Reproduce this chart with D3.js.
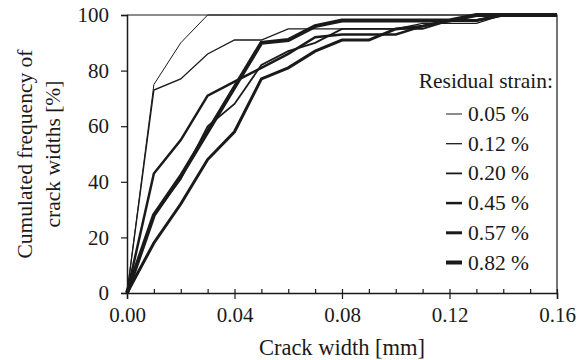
<!DOCTYPE html>
<html>
<head>
<meta charset="utf-8">
<script src="https://cdn.jsdelivr.net/npm/d3@7"></script>
<style>
    body { margin: 0; background: #fff; }
    text { font-family: "Liberation Serif", "Times New Roman", serif; fill: #1a1a1a; }
</style>
</head>
<body>
<div id="chart"></div>
<script>
'use strict';

// crack width classes [mm]
var crackWidths = [0, 0.01, 0.02, 0.03, 0.04, 0.05, 0.06, 0.07, 0.08, 0.09, 0.10, 0.11, 0.12, 0.13, 0.14, 0.15, 0.16];

// cumulated frequency [%] per residual strain
var strain005 = [0, 75, 90, 100, 100, 100, 100, 100, 100, 100, 100, 100, 100, 100, 100, 100, 100];
var strain012 = [0, 73, 77, 86, 91, 91, 95, 95, 95, 95, 95, 97, 97, 97, 100, 100, 100];
var strain020 = [0, 28, 41, 60, 68, 82, 87, 90, 95, 95, 95, 95, 98, 100, 100, 100, 100];
var strain045 = [0, 43, 55, 71, 76, 81, 86, 92, 93, 93, 93, 96, 98, 98, 100, 100, 100];
var strain057 = [0, 18, 32, 48, 58, 77, 81, 87, 91, 91, 95, 96, 98, 98, 100, 100, 100];
var strain082 = [0, 28, 42, 58, 74, 90, 91, 96, 98, 98, 98, 98, 98, 100, 100, 100, 100];

var seriesNames = ['0.05 %', '0.12 %', '0.20 %', '0.45 %', '0.57 %', '0.82 %'];
var seriesValues = [strain005, strain012, strain020, strain045, strain057, strain082];

var xMajorTicks = [0, 0.04, 0.08, 0.12, 0.16];
var xMinorTicks = [0.01, 0.02, 0.03, 0.05, 0.06, 0.07, 0.09, 0.10, 0.11, 0.13, 0.14, 0.15];
var yTicks = [0, 20, 40, 60, 80, 100];

var chartWidth = 581,
    chartHeight = 360,
    plot = { left: 127, right: 557, top: 15, bottom: 293 },
    strokeWidths = [1, 1.3, 1.8, 2.5, 3, 4],
    ink = '#1a1a1a';

var svg = d3.select('#chart').append('svg')
            .attr('width', chartWidth)
            .attr('height', chartHeight);

var x = d3.scaleLinear().domain([0, 0.16]).range([plot.left, plot.right]),
    y = d3.scaleLinear().domain([0, 100]).range([plot.bottom, plot.top]);

// frame (top + right)
svg.append('path')
   .attr('d', 'M' + plot.left + ',' + plot.top + 'H' + plot.right + 'V' + plot.bottom)
   .attr('fill', 'none')
   .attr('stroke', ink)
   .attr('stroke-width', 1.2);

// lines
var line = d3.line()
             .x(function (d) { return x(d[0]); })
             .y(function (d) { return y(d[1]); });

seriesValues.forEach(function (vals, i) {
    var pts = crackWidths.map(function (w, j) { return [w, vals[j]]; });
    svg.append('path')
       .attr('d', line(pts))
       .attr('fill', 'none')
       .attr('stroke', ink)
       .attr('stroke-width', strokeWidths[i])
       .attr('stroke-linejoin', 'miter');
});

// x axis
var xAxis = svg.append('g')
               .attr('transform', 'translate(0,' + plot.bottom + ')')
               .call(d3.axisBottom(x).tickValues(xMajorTicks).tickSize(6).tickPadding(8).tickFormat(d3.format('.2f')));

xAxis.selectAll('.tick line').attr('y1', -4).attr('stroke', ink).attr('stroke-width', 1.2);

svg.append('g')
   .attr('transform', 'translate(0,' + plot.bottom + ')')
   .call(d3.axisBottom(x).tickValues(xMinorTicks).tickSize(-4).tickFormat(''))
   .call(function (g) { g.select('.domain').remove(); })
   .selectAll('.tick line').attr('stroke', ink).attr('stroke-width', 1.2);

// y axis
var yAxis = svg.append('g')
               .attr('transform', 'translate(' + plot.left + ',0)')
               .call(d3.axisLeft(y).tickValues(yTicks).tickSize(6).tickPadding(12));

yAxis.selectAll('.tick line').attr('stroke', ink).attr('stroke-width', 1.2);

svg.selectAll('.domain').attr('stroke', ink).attr('stroke-width', 1.5);
svg.selectAll('.tick text')
   .attr('font-family', '"Liberation Serif", serif')
   .attr('font-size', 21)
   .attr('fill', ink);

// axis titles
svg.append('text')
   .attr('x', (plot.left + plot.right) / 2)
   .attr('y', 355)
   .attr('text-anchor', 'middle')
   .attr('font-size', 22.5)
   .text('Crack width [mm]');

var yTitle = svg.append('text')
                .attr('transform', 'translate(0,' + ((plot.top + plot.bottom) / 2) + ') rotate(-90)')
                .attr('text-anchor', 'middle')
                .attr('font-size', 21.5);

yTitle.append('tspan').attr('x', 0).attr('y', 32).text('Cumulated frequency of');
yTitle.append('tspan').attr('x', 0).attr('y', 60).text('crack widths [%]');

// legend
svg.append('text')
   .attr('x', 553)
   .attr('y', 88)
   .attr('text-anchor', 'end')
   .attr('font-size', 21.5)
   .text('Residual strain:');

var legend = svg.selectAll('.legend')
                .data(seriesNames)
                .enter()
                .append('g')
                .attr('class', 'legend')
                .attr('transform', function (d, i) { return 'translate(0,' + (114 + i * 29.7) + ')'; });

legend.append('line')
      .attr('x1', 446)
      .attr('x2', 462)
      .attr('stroke', ink)
      .attr('stroke-width', function (d, i) { return strokeWidths[i]; });

legend.append('text')
      .attr('x', 468)
      .attr('y', 7)
      .attr('font-size', 21.5)
      .text(function (d) { return d; });
</script>
</body>
</html>
